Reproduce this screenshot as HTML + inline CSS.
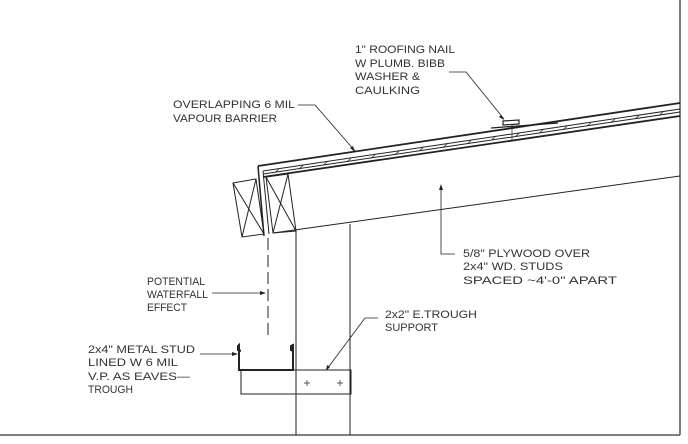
<!DOCTYPE html>
<html><head><meta charset="utf-8"><style>
html,body{margin:0;padding:0;background:#fff;}
svg{display:block;}
text{font-family:"Liberation Sans",sans-serif;font-size:11px;fill:#333;}
</style></head><body>
<svg id="s" width="688" height="444" viewBox="0 0 688 444" xmlns="http://www.w3.org/2000/svg">
<g stroke="#222" fill="none" stroke-width="1">
<line x1="680" y1="0" x2="680" y2="435" stroke-width="1.5" stroke="#555"/>
<line x1="0" y1="435" x2="680" y2="435" stroke-width="1.5" stroke="#555"/>
<line x1="258" y1="166" x2="680" y2="103" stroke-width="1.8"/>
<line x1="263" y1="171" x2="680" y2="109"/>
<line x1="263" y1="174" x2="680" y2="112"/>
<line x1="263" y1="177" x2="680" y2="116" stroke-width="1.8"/>
<g id="hatch" stroke-width="0.7"></g>
<line x1="258" y1="166" x2="264" y2="236" stroke-width="1.5"/>
<line x1="263" y1="171" x2="269" y2="234"/>
<polygon points="233,183 256,179 264,234 242,237"/>
<line x1="233" y1="183" x2="264" y2="234"/>
<line x1="256" y1="179" x2="242" y2="237"/>
<polygon points="266,177 288,174 296,231 273,233"/>
<line x1="266" y1="177" x2="296" y2="231"/>
<line x1="288" y1="174" x2="273" y2="233"/>
<line x1="273" y1="233" x2="680" y2="176"/>
<line x1="296" y1="231" x2="296" y2="435"/>
<line x1="350" y1="224" x2="350" y2="435"/>
<line x1="268" y1="238" x2="268" y2="340" stroke-dasharray="12,5"/>
<path d="M241,351 L238,350 L238,346 L239,345 L239,370 L293,370 L293,345 L291,346 L291,350 L293,351" stroke-width="2"/>
<rect x="241" y="370" width="110" height="24"/>
<path d="M304,383h6M307,380v6M337,383h6M340,380v6" stroke-width="0.7"/>
<line x1="491" y1="128" x2="558" y2="123" stroke-width="1.3"/>
<polygon points="503,121 519,120 519,124 503,125" stroke-width="1.2"/>
<line x1="512" y1="124" x2="512" y2="140" stroke-width="0.7"/>
<polyline points="449,72 466,72 504,119" stroke-width="0.8"/>
<polyline points="298,105 315,105 355,151" stroke-width="0.8"/>
<line x1="212" y1="293" x2="263" y2="293" stroke-width="0.8"/>
<line x1="200" y1="354" x2="235" y2="354" stroke-width="0.8"/>
<polyline points="455,254 441,254 441,187" stroke-width="0.8"/>
<polyline points="378,318 365,318 327,369" stroke-width="0.8"/>
</g>
<g fill="#222">
<polygon points="504,120 499,117 501,115"/>
<polygon points="355,152 350,148 353,146"/>
<polygon points="266,293 260,291 260,295"/>
<polygon points="238,354 232,352 232,356"/>
<polygon points="441,184 439,190 443,190"/>
<polygon points="326,371 327,365 330,367"/>
</g>
<g lengthAdjust="spacingAndGlyphs">
<text lengthAdjust="spacingAndGlyphs" x="355" y="53" textLength="100">1" ROOFING NAIL</text>
<text lengthAdjust="spacingAndGlyphs" x="355" y="67" textLength="90">W PLUMB. BIBB</text>
<text lengthAdjust="spacingAndGlyphs" x="355" y="80" textLength="65">WASHER &amp;</text>
<text lengthAdjust="spacingAndGlyphs" x="355" y="94" textLength="65">CAULKING</text>
<text lengthAdjust="spacingAndGlyphs" x="173" y="108" textLength="122">OVERLAPPING 6 MIL</text>
<text lengthAdjust="spacingAndGlyphs" x="173" y="122" textLength="104">VAPOUR BARRIER</text>
<text lengthAdjust="spacingAndGlyphs" x="147" y="285" textLength="58">POTENTIAL</text>
<text lengthAdjust="spacingAndGlyphs" x="147" y="298" textLength="61">WATERFALL</text>
<text lengthAdjust="spacingAndGlyphs" x="147" y="311" textLength="40">EFFECT</text>
<text lengthAdjust="spacingAndGlyphs" x="88" y="353" textLength="107">2x4" METAL STUD</text>
<text lengthAdjust="spacingAndGlyphs" x="88" y="366" textLength="90">LINED W 6 MIL</text>
<text lengthAdjust="spacingAndGlyphs" x="88" y="380" textLength="102">V.P. AS EAVES—</text>
<text lengthAdjust="spacingAndGlyphs" x="88" y="393" textLength="45">TROUGH</text>
<text lengthAdjust="spacingAndGlyphs" x="463" y="257" textLength="127">5/8" PLYWOOD OVER</text>
<text lengthAdjust="spacingAndGlyphs" x="463" y="270" textLength="100">2x4" WD. STUDS</text>
<text lengthAdjust="spacingAndGlyphs" x="463" y="284" textLength="154">SPACED ~4'-0" APART</text>
<text lengthAdjust="spacingAndGlyphs" x="385" y="318" textLength="92">2x2" E.TROUGH</text>
<text lengthAdjust="spacingAndGlyphs" x="385" y="331" textLength="53">SUPPORT</text>
</g>
</svg>
<script>
var g=document.getElementById('hatch');
for(var x=275;x<675;x+=24){
 var y1=171-(x-263)*0.1487+0.5, y2=174-(x-263)*0.1487;
 var l=document.createElementNS('http://www.w3.org/2000/svg','line');
 l.setAttribute('x1',x+4);l.setAttribute('y1',y1-0.6);
 l.setAttribute('x2',x);l.setAttribute('y2',y2+0.3);
 g.appendChild(l);
}
</script>
</body></html>
